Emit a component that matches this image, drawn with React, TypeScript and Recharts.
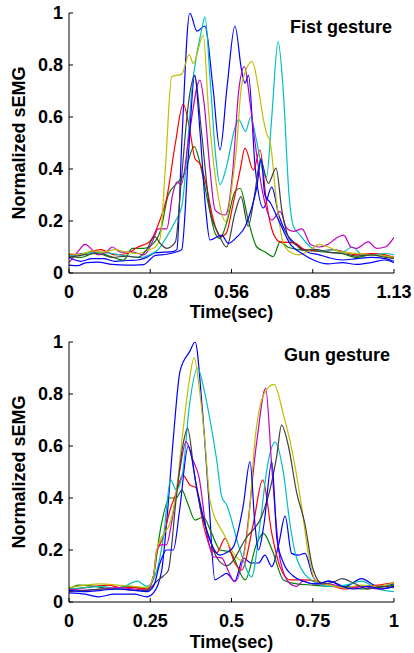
import React from 'react';
import { LineChart, Line, XAxis, YAxis } from 'recharts';

type P = [number, number];

// ---------- Fist gesture (top) : [time (s), normalized sEMG] ----------
const fistBlueA: P[] = [[0,0.06],[0.04,0.045],[0.08,0.055],[0.12,0.055],[0.16,0.045],[0.2,0.048],[0.24,0.05],[0.27,0.06],[0.3,0.078],[0.33,0.08],[0.36,0.082],[0.375,0.09],[0.392,0.5],[0.42,1.0],[0.445,0.93],[0.472,0.95],[0.5,0.72],[0.525,0.473],[0.55,0.72],[0.577,0.95],[0.6,0.78],[0.612,0.73],[0.624,0.76],[0.647,0.41],[0.676,0.25],[0.705,0.33],[0.73,0.22],[0.757,0.15],[0.79,0.11],[0.83,0.08],[0.87,0.07],[0.9,0.06],[0.95,0.05],[1.0,0.055],[1.05,0.06],[1.1,0.055],[1.13,0.045]];
const fistGreen: P[] = [[0,0.065],[0.04,0.06],[0.1,0.08],[0.14,0.065],[0.19,0.05],[0.22,0.095],[0.26,0.095],[0.29,0.11],[0.32,0.17],[0.345,0.3],[0.375,0.345],[0.4,0.38],[0.435,0.486],[0.46,0.4],[0.484,0.268],[0.508,0.153],[0.525,0.133],[0.55,0.2],[0.577,0.313],[0.595,0.326],[0.623,0.204],[0.653,0.1],[0.681,0.082],[0.71,0.063],[0.734,0.12],[0.76,0.1],[0.8,0.09],[0.85,0.085],[0.9,0.08],[0.95,0.075],[1.0,0.06],[1.05,0.07],[1.1,0.065],[1.13,0.06]];
const fistRed: P[] = [[0,0.07],[0.05,0.075],[0.11,0.09],[0.16,0.07],[0.2,0.075],[0.24,0.1],[0.28,0.12],[0.315,0.2],[0.34,0.29],[0.37,0.5],[0.397,0.65],[0.42,0.55],[0.438,0.44],[0.455,0.42],[0.473,0.358],[0.502,0.204],[0.525,0.14],[0.545,0.15],[0.571,0.268],[0.595,0.396],[0.612,0.48],[0.641,0.396],[0.664,0.473],[0.687,0.268],[0.71,0.153],[0.734,0.12],[0.786,0.115],[0.82,0.09],[0.87,0.085],[0.92,0.09],[0.96,0.08],[1.0,0.07],[1.05,0.075],[1.1,0.07],[1.13,0.06]];
const fistCyan: P[] = [[0,0.065],[0.05,0.075],[0.1,0.08],[0.15,0.075],[0.2,0.065],[0.25,0.06],[0.28,0.07],[0.31,0.09],[0.34,0.14],[0.37,0.2],[0.392,0.255],[0.432,0.755],[0.461,0.935],[0.473,0.985],[0.49,0.755],[0.51,0.45],[0.525,0.34],[0.55,0.42],[0.575,0.55],[0.59,0.59],[0.614,0.545],[0.632,0.6],[0.65,0.52],[0.672,0.4],[0.687,0.37],[0.705,0.6],[0.727,0.89],[0.745,0.7],[0.765,0.3],[0.78,0.18],[0.8,0.15],[0.84,0.1],[0.88,0.085],[0.92,0.09],[0.95,0.08],[0.985,0.1],[1.02,0.07],[1.06,0.07],[1.1,0.075],[1.13,0.07]];
const fistMagenta: P[] = [[0,0.04],[0.03,0.08],[0.056,0.11],[0.08,0.09],[0.1,0.07],[0.13,0.08],[0.15,0.1],[0.18,0.08],[0.22,0.08],[0.26,0.07],[0.29,0.12],[0.31,0.17],[0.34,0.17],[0.36,0.3],[0.375,0.35],[0.39,0.34],[0.42,0.55],[0.455,0.742],[0.47,0.65],[0.49,0.4],[0.508,0.242],[0.542,0.223],[0.55,0.235],[0.57,0.4],[0.59,0.7],[0.61,0.794],[0.63,0.65],[0.647,0.5],[0.675,0.3],[0.705,0.204],[0.734,0.236],[0.757,0.172],[0.78,0.16],[0.81,0.17],[0.84,0.11],[0.87,0.1],[0.9,0.11],[0.93,0.135],[0.955,0.146],[0.98,0.1],[1.0,0.095],[1.04,0.12],[1.07,0.095],[1.1,0.1],[1.13,0.137]];
const fistYellow: P[] = [[0,0.075],[0.04,0.07],[0.08,0.085],[0.12,0.08],[0.16,0.09],[0.2,0.08],[0.24,0.075],[0.28,0.09],[0.3,0.1],[0.316,0.13],[0.335,0.4],[0.357,0.755],[0.392,0.765],[0.418,0.84],[0.432,0.806],[0.467,0.915],[0.485,0.627],[0.5,0.45],[0.518,0.3],[0.545,0.197],[0.566,0.33],[0.583,0.486],[0.6,0.72],[0.637,0.813],[0.66,0.7],[0.676,0.59],[0.687,0.537],[0.7,0.5],[0.722,0.27],[0.745,0.114],[0.77,0.08],[0.8,0.07],[0.84,0.09],[0.87,0.11],[0.9,0.1],[0.95,0.08],[1.0,0.075],[1.05,0.07],[1.1,0.065],[1.13,0.06]];
const fistGray: P[] = [[0,0.06],[0.05,0.07],[0.1,0.075],[0.15,0.06],[0.2,0.065],[0.24,0.06],[0.27,0.09],[0.297,0.14],[0.32,0.11],[0.34,0.095],[0.37,0.12],[0.39,0.35],[0.415,0.65],[0.437,0.76],[0.46,0.55],[0.49,0.242],[0.519,0.153],[0.548,0.1],[0.577,0.23],[0.598,0.294],[0.623,0.18],[0.645,0.3],[0.666,0.435],[0.693,0.345],[0.72,0.403],[0.74,0.242],[0.768,0.127],[0.79,0.108],[0.814,0.088],[0.86,0.09],[0.9,0.08],[0.95,0.075],[1.0,0.065],[1.05,0.07],[1.1,0.06],[1.13,0.055]];
const fistBlueB: P[] = [[0,0.03],[0.03,0.028],[0.06,0.04],[0.1,0.042],[0.15,0.033],[0.2,0.03],[0.26,0.032],[0.28,0.05],[0.3,0.068],[0.34,0.072],[0.37,0.08],[0.392,0.09],[0.415,0.45],[0.437,0.76],[0.455,0.55],[0.475,0.25],[0.49,0.127],[0.531,0.146],[0.554,0.114],[0.585,0.14],[0.612,0.178],[0.635,0.25],[0.653,0.33],[0.668,0.44],[0.681,0.3],[0.7,0.27],[0.73,0.2],[0.77,0.11],[0.81,0.075],[0.85,0.05],[0.9,0.035],[0.95,0.04],[1.0,0.033],[1.05,0.04],[1.1,0.05],[1.13,0.04]];

// ---------- Gun gesture (bottom) ----------
const gunBlueA: P[] = [[0,0.035],[0.05,0.03],[0.09,0.02],[0.14,0.03],[0.2,0.03],[0.24,0.02],[0.26,0.035],[0.285,0.12],[0.3,0.3],[0.321,0.63],[0.342,0.89],[0.372,0.965],[0.388,1.0],[0.41,0.745],[0.43,0.4],[0.449,0.085],[0.47,0.1],[0.485,0.11],[0.51,0.08],[0.536,0.17],[0.56,0.15],[0.583,0.15],[0.603,0.18],[0.624,0.136],[0.645,0.22],[0.665,0.33],[0.685,0.187],[0.705,0.18],[0.726,0.187],[0.75,0.1],[0.77,0.07],[0.8,0.08],[0.85,0.06],[0.9,0.09],[0.95,0.06],[1.0,0.07]];
const gunGreen: P[] = [[0,0.05],[0.03,0.065],[0.08,0.06],[0.13,0.05],[0.18,0.06],[0.24,0.05],[0.26,0.1],[0.28,0.27],[0.31,0.4],[0.33,0.4],[0.347,0.43],[0.365,0.38],[0.388,0.315],[0.413,0.327],[0.439,0.264],[0.465,0.2],[0.495,0.193],[0.542,0.085],[0.578,0.226],[0.598,0.264],[0.625,0.2],[0.66,0.085],[0.7,0.07],[0.75,0.065],[0.8,0.06],[0.85,0.06],[0.9,0.05],[0.95,0.055],[1.0,0.065]];
const gunRed: P[] = [[0,0.045],[0.05,0.055],[0.12,0.065],[0.16,0.055],[0.2,0.055],[0.24,0.05],[0.26,0.1],[0.27,0.19],[0.29,0.25],[0.31,0.35],[0.33,0.42],[0.35,0.488],[0.372,0.45],[0.39,0.44],[0.413,0.3],[0.439,0.2],[0.455,0.19],[0.48,0.245],[0.51,0.15],[0.531,0.123],[0.567,0.3],[0.596,0.47],[0.624,0.264],[0.649,0.136],[0.68,0.085],[0.72,0.085],[0.76,0.08],[0.8,0.065],[0.85,0.05],[0.9,0.06],[0.95,0.065],[1.0,0.075]];
const gunCyan: P[] = [[0,0.05],[0.05,0.055],[0.1,0.06],[0.15,0.05],[0.21,0.08],[0.24,0.06],[0.27,0.12],[0.29,0.245],[0.313,0.47],[0.33,0.43],[0.35,0.5],[0.37,0.75],[0.396,0.9],[0.415,0.82],[0.434,0.7],[0.454,0.55],[0.47,0.405],[0.485,0.373],[0.526,0.2],[0.562,0.097],[0.588,0.3],[0.61,0.52],[0.634,0.615],[0.66,0.495],[0.68,0.3],[0.7,0.17],[0.75,0.08],[0.8,0.06],[0.85,0.065],[0.9,0.08],[0.95,0.05],[1.0,0.04]];
const gunMagenta: P[] = [[0,0.05],[0.05,0.045],[0.1,0.05],[0.15,0.055],[0.2,0.05],[0.24,0.045],[0.26,0.1],[0.27,0.2],[0.285,0.22],[0.3,0.22],[0.315,0.3],[0.34,0.5],[0.36,0.617],[0.38,0.55],[0.4,0.48],[0.424,0.264],[0.444,0.174],[0.47,0.17],[0.49,0.12],[0.51,0.078],[0.54,0.2],[0.578,0.62],[0.605,0.822],[0.625,0.5],[0.65,0.16],[0.68,0.07],[0.7,0.06],[0.72,0.08],[0.75,0.07],[0.8,0.07],[0.85,0.055],[0.9,0.06],[0.95,0.05],[1.0,0.06]];
const gunYellow: P[] = [[0,0.055],[0.05,0.065],[0.1,0.07],[0.15,0.065],[0.2,0.06],[0.24,0.055],[0.26,0.1],[0.27,0.2],[0.29,0.26],[0.31,0.3],[0.33,0.42],[0.35,0.65],[0.37,0.85],[0.385,0.94],[0.403,0.8],[0.418,0.62],[0.434,0.39],[0.475,0.264],[0.531,0.16],[0.552,0.3],[0.572,0.62],[0.6,0.8],[0.631,0.837],[0.66,0.72],[0.68,0.62],[0.716,0.366],[0.736,0.187],[0.76,0.08],[0.8,0.065],[0.85,0.055],[0.9,0.065],[0.95,0.06],[1.0,0.075]];
const gunGray: P[] = [[0,0.04],[0.05,0.045],[0.1,0.05],[0.15,0.05],[0.2,0.045],[0.24,0.045],[0.27,0.08],[0.29,0.1],[0.305,0.12],[0.33,0.4],[0.35,0.6],[0.365,0.668],[0.385,0.5],[0.403,0.366],[0.434,0.24],[0.455,0.17],[0.485,0.14],[0.547,0.25],[0.593,0.33],[0.618,0.43],[0.639,0.56],[0.654,0.68],[0.675,0.6],[0.7,0.424],[0.726,0.3],[0.75,0.13],[0.78,0.07],[0.82,0.08],[0.84,0.09],[0.88,0.07],[0.92,0.05],[0.96,0.06],[1.0,0.055]];
const gunBlueB: P[] = [[0,0.045],[0.05,0.04],[0.1,0.045],[0.15,0.05],[0.2,0.045],[0.24,0.04],[0.26,0.06],[0.28,0.15],[0.3,0.2],[0.321,0.2],[0.34,0.35],[0.367,0.6],[0.393,0.44],[0.43,0.25],[0.465,0.18],[0.485,0.19],[0.505,0.21],[0.536,0.37],[0.557,0.54],[0.572,0.3],[0.583,0.2],[0.6,0.3],[0.624,0.54],[0.64,0.24],[0.66,0.15],[0.69,0.1],[0.72,0.08],[0.76,0.07],[0.8,0.08],[0.84,0.06],[0.88,0.05],[0.92,0.06],[0.96,0.05],[1.0,0.06]];

// ---------- ticks / labels ----------
const fistXTicks = [0, 0.2825, 0.565, 0.8475, 1.13];
const fistXLabels = ['0', '0.28', '0.56', '0.85', '1.13'];
const gunXTicks = [0, 0.25, 0.5, 0.75, 1];
const gunXLabels = ['0', '0.25', '0.5', '0.75', '1'];
const yTicks = [0, 0.2, 0.4, 0.6, 0.8, 1];
const yLabels = ['0', '0.2', '0.4', '0.6', '0.8', '1'];
const seriesColors = ['#0000ff', '#008000', '#ff0000', '#00bfbf', '#bf00bf', '#bfbf00', '#404040', '#0000ff'];

const fistSeries = [fistBlueA, fistGreen, fistRed, fistCyan, fistMagenta, fistYellow, fistGray, fistBlueB];
const gunSeries = [gunBlueA, gunGreen, gunRed, gunCyan, gunMagenta, gunYellow, gunGray, gunBlueB];

const FONT = "'Liberation Sans', Arial, Helvetica, sans-serif";
const tickFont = { fontFamily: FONT, fontWeight: 700, fontSize: 18, fill: '#000' };

const toRows = (pts: P[]) => pts.map(([t, v]) => ({ t, v }));

function Panel(props: { series: P[][]; xMax: number; xTicks: number[]; xLabels: string[]; height: number; top: number; xAxisHeight: number }) {
  const { series, xMax, xTicks, xLabels, height, top, xAxisHeight } = props;
  return (
    <LineChart width={414} height={height} margin={{ top, right: 20, bottom: 0, left: 0 }}>
      <XAxis
        xAxisId="b"
        dataKey="t"
        type="number"
        domain={[0, xMax]}
        allowDataOverflow
        ticks={xTicks}
        interval={0}
        tickFormatter={(_v: number, i: number) => xLabels[i]}
        tick={tickFont}
        tickSize={-4}
        tickMargin={16}
        height={xAxisHeight}
        axisLine={{ stroke: '#000', strokeWidth: 1 }}
        tickLine={{ stroke: '#000', strokeWidth: 1 }}
      />
      <XAxis
        xAxisId="top"
        orientation="top"
        type="number"
        dataKey="t"
        domain={[0, xMax]}
        allowDataOverflow
        ticks={xTicks}
        interval={0}
        tick={false}
        tickSize={-4}
        height={0}
        axisLine={{ stroke: '#000', strokeWidth: 1 }}
        tickLine={{ stroke: '#000', strokeWidth: 1 }}
      />
      <YAxis
        yAxisId="l"
        type="number"
        domain={[0, 1]}
        allowDataOverflow
        ticks={yTicks}
        interval={0}
        tickFormatter={(_v: number, i: number) => yLabels[i]}
        tick={tickFont}
        tickSize={-4}
        tickMargin={10}
        width={69}
        axisLine={{ stroke: '#000', strokeWidth: 1 }}
        tickLine={{ stroke: '#000', strokeWidth: 1 }}
      />
      <YAxis
        yAxisId="r"
        orientation="right"
        type="number"
        domain={[0, 1]}
        allowDataOverflow
        ticks={yTicks}
        interval={0}
        tick={false}
        tickSize={-4}
        width={0}
        axisLine={{ stroke: '#000', strokeWidth: 1 }}
        tickLine={{ stroke: '#000', strokeWidth: 1 }}
      />
      {series.map((pts, i) => (
        <Line
          key={i}
          xAxisId="b"
          yAxisId="l"
          data={toRows(pts)}
          dataKey="v"
          type="monotone"
          stroke={seriesColors[i]}
          strokeWidth={1.2}
          dot={false}
          activeDot={false}
          isAnimationActive={false}
        />
      ))}
    </LineChart>
  );
}

export default function App() {
  const title = { fontFamily: FONT, fontWeight: 700, fontSize: 18, fill: '#000' } as const;
  return (
    <div style={{ position: 'absolute', left: 0, top: 0, width: 414, height: 653, background: '#fff', overflow: 'hidden' }}>
      <div style={{ position: 'absolute', left: 0, top: 0 }}>
        <Panel series={fistSeries} xMax={1.13} xTicks={fistXTicks} xLabels={fistXLabels} height={326} top={13} xAxisHeight={53} />
      </div>
      <div style={{ position: 'absolute', left: 0, top: 326 }}>
        <Panel series={gunSeries} xMax={1} xTicks={gunXTicks} xLabels={gunXLabels} height={327} top={16} xAxisHeight={51} />
      </div>
      <svg width={414} height={653} style={{ position: 'absolute', left: 0, top: 0, pointerEvents: 'none' }}>
        <text {...title} transform="translate(25,143) rotate(-90)" textAnchor="middle">Normalized sEMG</text>
        <text {...title} x={231.5} y={318} textAnchor="middle">Time(sec)</text>
        <text {...title} x={392} y={33} textAnchor="end">Fist gesture</text>
        <text {...title} transform="translate(25,472) rotate(-90)" textAnchor="middle">Normalized sEMG</text>
        <text {...title} x={231.5} y={648} textAnchor="middle">Time(sec)</text>
        <text {...title} x={390} y={361} textAnchor="end">Gun gesture</text>
      </svg>
    </div>
  );
}
